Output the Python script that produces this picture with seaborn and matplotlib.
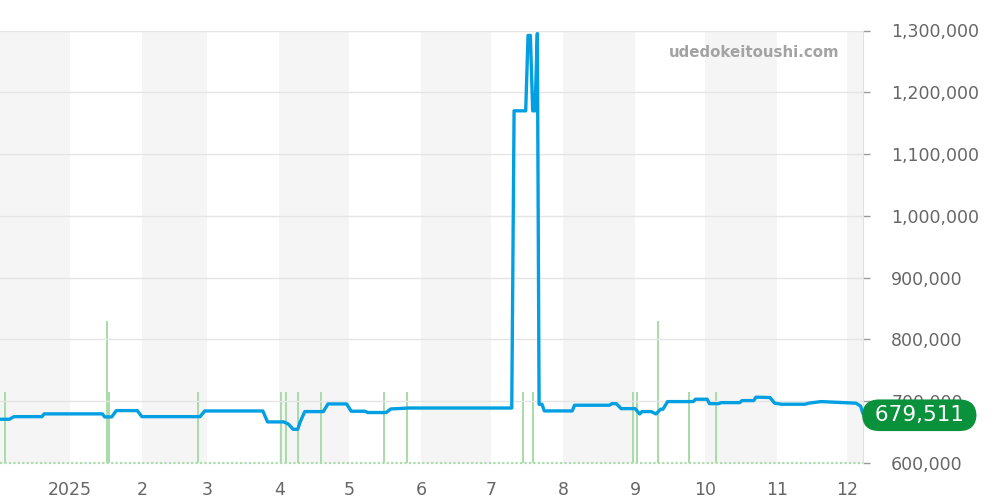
import matplotlib
matplotlib.use("Agg")
import matplotlib.pyplot as plt
import pandas as pd
import seaborn as sns
from matplotlib.ticker import FuncFormatter

# ---------------- data ----------------
price_dates = [
    "2024-12-02", "2024-12-06", "2024-12-08", "2024-12-20", "2024-12-21",
    "2025-01-15", "2025-01-16", "2025-01-19", "2025-01-21", "2025-01-30",
    "2025-02-01", "2025-02-26", "2025-02-28", "2025-03-25", "2025-03-27",
    "2025-04-03", "2025-04-05", "2025-04-07", "2025-04-09", "2025-04-10",
    "2025-04-12", "2025-04-20", "2025-04-22", "2025-04-30", "2025-05-02",
    "2025-05-08", "2025-05-09", "2025-05-17", "2025-05-19", "2025-05-27",
    "2025-07-10", "2025-07-11", "2025-07-16", "2025-07-17", "2025-07-18",
    "2025-07-19", "2025-07-20", "2025-07-21", "2025-07-21 18:00", "2025-07-23",
    "2025-07-24", "2025-08-05", "2025-08-06", "2025-08-21", "2025-08-22",
    "2025-08-24", "2025-08-26", "2025-09-01", "2025-09-03", "2025-09-04",
    "2025-09-08", "2025-09-10", "2025-09-12", "2025-09-13", "2025-09-15",
    "2025-09-26", "2025-09-27", "2025-10-02", "2025-10-03", "2025-10-07",
    "2025-10-08", "2025-10-16", "2025-10-17", "2025-10-22", "2025-10-23",
    "2025-10-29", "2025-10-31", "2025-11-03", "2025-11-13", "2025-11-15",
    "2025-11-20", "2025-11-28", "2025-12-05", "2025-12-07", "2025-12-08",
]
price_values = [
    670800, 670800, 675000, 675000, 679500,
    679500, 674600, 674600, 684800, 684800,
    675000, 675000, 684200, 684200, 666500,
    666500, 663000, 654600, 654600, 666000,
    683200, 683200, 695600, 695600, 683800,
    683800, 681700, 681700, 687500, 689000,
    689000, 1170000, 1170000, 1292000, 1292000,
    1170000, 1170000, 1295000, 695100, 695100,
    684300, 684300, 693500, 693500, 696000,
    696000, 688000, 688000, 679400, 683200,
    683200, 679400, 687000, 687000, 699400,
    699400, 703200, 703200, 696100, 696100,
    697700, 697700, 701000, 701000, 706500,
    706000, 696800, 695100, 695100, 697000,
    699400, 698000, 696800, 692000, 679511,
]

volume_dates = [
    "2024-12-04", "2025-01-17", "2025-01-18", "2025-02-25", "2025-04-02",
    "2025-04-04", "2025-04-09", "2025-04-19", "2025-05-16", "2025-05-26",
    "2025-07-15", "2025-07-19", "2025-08-31", "2025-09-02", "2025-09-11",
    "2025-09-24", "2025-10-06",
]
volume_counts = [1, 2, 1, 1, 1, 1, 1, 1, 1, 1, 1, 1, 1, 1, 2, 1, 1]

month_ticks = ["2025-01-01", "2025-02-01", "2025-03-01", "2025-04-01",
               "2025-05-01", "2025-06-01", "2025-07-01", "2025-08-01",
               "2025-09-01", "2025-10-01", "2025-11-01", "2025-12-01"]
month_labels = ["2025", "2", "3", "4", "5", "6", "7", "8", "9", "10", "11", "12"]
y_ticks = [600000, 700000, 800000, 900000, 1000000, 1100000, 1200000, 1300000]
last_price = 679511
watermark = "udedokeitoushi.com"

# ---------------- style ----------------
sns.set_style("white")
plt.rcParams["font.family"] = ["DejaVu Sans"]

LINE = "#039fe3"
GREEN_BAR = "#a6dca6"
BAND = "#f5f5f5"
TXT = "#666666"

fig = plt.figure(figsize=(10, 5), dpi=100)
axv = fig.add_axes([0.0, 0.074, 0.863, 0.865])
ax = axv.twinx()

x0, x1 = pd.Timestamp("2024-12-02"), pd.Timestamp("2025-12-08")

# alternating month bands
starts = pd.date_range("2024-12-01", "2026-01-01", freq="MS")
for i in range(len(starts) - 1):
    if i % 2 == 0:
        axv.axvspan(starts[i], starts[i + 1], color=BAND, lw=0, zorder=0)

# volume bars (secondary scale)
vd = pd.to_datetime(volume_dates)
axv.vlines(vd, 0, volume_counts, color=GREEN_BAR, lw=1.4, zorder=2)
axv.axhline(0, color=GREEN_BAR, lw=1.6, ls=(0, (1, 1)), clip_on=False, zorder=2)
axv.set_ylim(0, 6.09)
axv.set_yticks([])
axv.set_xlim(x0, x1)
axv.set_xticks(pd.to_datetime(month_ticks))
axv.set_xticklabels(month_labels)
axv.tick_params(axis="x", length=4, width=1, color="#999999", pad=9,
                labelsize=12.5, labelcolor=TXT)
for s in axv.spines.values():
    s.set_visible(False)

# price line
df = pd.DataFrame({"date": pd.to_datetime(price_dates, format="mixed"),
                   "price": price_values})
sns.lineplot(data=df, x="date", y="price", ax=ax, color=LINE, lw=2.4,
             estimator=None, sort=False, zorder=5)
ax.set_ylim(600000, 1300000)
ax.set_yticks(y_ticks)
ax.yaxis.set_major_formatter(FuncFormatter(lambda v, p: f"{int(v):,}"))
ax.tick_params(axis="y", length=5.3, width=1, color="#999999", pad=15,
               labelsize=12.5, labelcolor=TXT)
ax.yaxis.grid(True, color="#e5e5e5", lw=1)
ax.set_axisbelow(True)
ax.set_xlabel("")
ax.set_ylabel("")
axv.set_xlabel("")
for k, s in ax.spines.items():
    s.set_visible(k == "right")
ax.spines["right"].set_color("#e0e0e0")
ax.set_xlim(x0, x1)

# watermark
ax.text(0.973, 0.950, watermark, transform=ax.transAxes, ha="right", va="center",
        fontsize=10.8, fontweight="bold", color="#a3a3a3", zorder=6)

# last price badge
ax.annotate(f" {last_price:,} ", xy=(1.0, last_price),
            xycoords=("axes fraction", "data"),
            xytext=(3.5, -1), textcoords="offset points",
            ha="left", va="center", fontsize=15.5, color="white",
            bbox=dict(boxstyle="round,pad=0.27,rounding_size=0.8",
                      fc="#0a913c", ec="none"),
            zorder=10, annotation_clip=False)

fig.savefig("out.png", dpi=100)
